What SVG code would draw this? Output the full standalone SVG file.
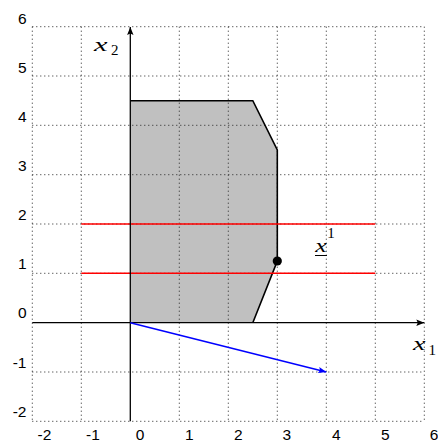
<svg xmlns="http://www.w3.org/2000/svg" width="438" height="442" viewBox="0 0 438 442">
<style>
.grid line{stroke:#222;stroke-width:1;stroke-dasharray:1 3}
.tick{font-family:"Liberation Sans",Arial,sans-serif;font-size:15.5px;fill:#000}
.math{font-family:"Liberation Serif","Times New Roman",serif;font-style:italic;font-size:19px;fill:#000}
.sub{font-family:"Liberation Serif","Times New Roman",serif;font-size:15px;fill:#000}
</style>
<defs>
<marker id="ah" markerWidth="10" markerHeight="8" refX="8" refY="4" orient="auto" markerUnits="userSpaceOnUse">
<path d="M0,0.8 L8,4 L0,7.2 L1.5,4 Z" fill="#000"/>
</marker>
<marker id="ahb" markerWidth="10" markerHeight="8" refX="8" refY="4" orient="auto" markerUnits="userSpaceOnUse">
<path d="M0,0.8 L8,4 L0,7.2 L1.5,4 Z" fill="#0000ff"/>
</marker>
</defs>
<rect width="438" height="442" fill="#fff"/>
<g id="region">
<polygon points="130.3,322.7 130.3,100.7 252.8,100.7 277.3,150 277.3,261 252.8,322.7" fill="#c0c0c0"/>
</g>
<g class="grid" id="grid">
<line x1="32.3" y1="26.7" x2="32.3" y2="421.3"/>
<line x1="81.3" y1="26.7" x2="81.3" y2="421.3"/>
<line x1="179.3" y1="26.7" x2="179.3" y2="421.3"/>
<line x1="228.3" y1="26.7" x2="228.3" y2="421.3"/>
<line x1="277.3" y1="26.7" x2="277.3" y2="421.3"/>
<line x1="326.3" y1="26.7" x2="326.3" y2="421.3"/>
<line x1="375.3" y1="26.7" x2="375.3" y2="421.3"/>
<line x1="424.3" y1="26.7" x2="424.3" y2="421.3"/>
<line x1="32.3" y1="26.7" x2="424.3" y2="26.7"/>
<line x1="32.3" y1="76" x2="424.3" y2="76"/>
<line x1="32.3" y1="125.3" x2="424.3" y2="125.3"/>
<line x1="32.3" y1="174.7" x2="424.3" y2="174.7"/>
<line x1="32.3" y1="224" x2="424.3" y2="224"/>
<line x1="32.3" y1="273.3" x2="424.3" y2="273.3"/>
<line x1="32.3" y1="372" x2="424.3" y2="372"/>
<line x1="32.3" y1="421.3" x2="424.3" y2="421.3"/>
</g>
<g id="region-outline">
<polyline points="130.3,100.7 252.8,100.7 277.3,150 277.3,261 252.8,322.7" fill="none" stroke="#000" stroke-width="1.6"/>
</g>
<g id="connectors">
<line x1="81.3" y1="224" x2="375.3" y2="224" stroke="#ff0000" stroke-width="1.5"/>
<line x1="81.3" y1="273.3" x2="375.3" y2="273.3" stroke="#ff0000" stroke-width="1.5"/>
<line x1="32.3" y1="322.7" x2="424.3" y2="322.7" stroke="#000" stroke-width="1.3" marker-end="url(#ah)"/>
<line x1="130.3" y1="421.3" x2="130.3" y2="27" stroke="#000" stroke-width="1.3" marker-end="url(#ah)"/>
<line x1="130.3" y1="322.7" x2="326.3" y2="372" stroke="#0000ff" stroke-width="1.5" marker-end="url(#ahb)"/>
</g>
<g id="point">
<circle cx="277.3" cy="261" r="4.6" fill="#000"/>
</g>
<g id="ticks">
<text class="tick" x="26.5" y="23.8" text-anchor="end">6</text>
<text class="tick" x="26.5" y="72.8" text-anchor="end">5</text>
<text class="tick" x="26.5" y="121.8" text-anchor="end">4</text>
<text class="tick" x="26.5" y="170.8" text-anchor="end">3</text>
<text class="tick" x="26.5" y="220" text-anchor="end">2</text>
<text class="tick" x="26.5" y="269" text-anchor="end">1</text>
<text class="tick" x="26.5" y="318.3" text-anchor="end">0</text>
<text class="tick" x="26.5" y="367.5" text-anchor="end">-1</text>
<text class="tick" x="26.5" y="416.8" text-anchor="end">-2</text>
<text class="tick" x="44.5" y="439.5" text-anchor="middle">-2</text>
<text class="tick" x="93" y="439.5" text-anchor="middle">-1</text>
<text class="tick" x="140" y="439.5" text-anchor="middle">0</text>
<text class="tick" x="189.3" y="439.5" text-anchor="middle">1</text>
<text class="tick" x="238.3" y="439.5" text-anchor="middle">2</text>
<text class="tick" x="286.7" y="439.5" text-anchor="middle">3</text>
<text class="tick" x="336.3" y="439.5" text-anchor="middle">4</text>
<text class="tick" x="385.3" y="439.5" text-anchor="middle">5</text>
<text class="tick" x="434" y="439.5" text-anchor="middle">6</text>
</g>
<g id="label-x2">
<text class="math" x="94" y="51" textLength="13.5" lengthAdjust="spacingAndGlyphs">x</text>
<text class="sub" x="111" y="55">2</text>
</g>
<g id="label-x1">
<text class="math" x="413" y="350" textLength="12.5" lengthAdjust="spacingAndGlyphs">x</text>
<text class="sub" x="428.5" y="355">1</text>
</g>
<g id="label-xbar1">
<text class="math" x="315.3" y="251.5" textLength="11.5" lengthAdjust="spacingAndGlyphs">x</text>
<line x1="315" y1="255.5" x2="327" y2="255.5" stroke="#000" stroke-width="1"/>
<text class="sub" x="327.3" y="238.3">1</text>
</g>
</svg>
